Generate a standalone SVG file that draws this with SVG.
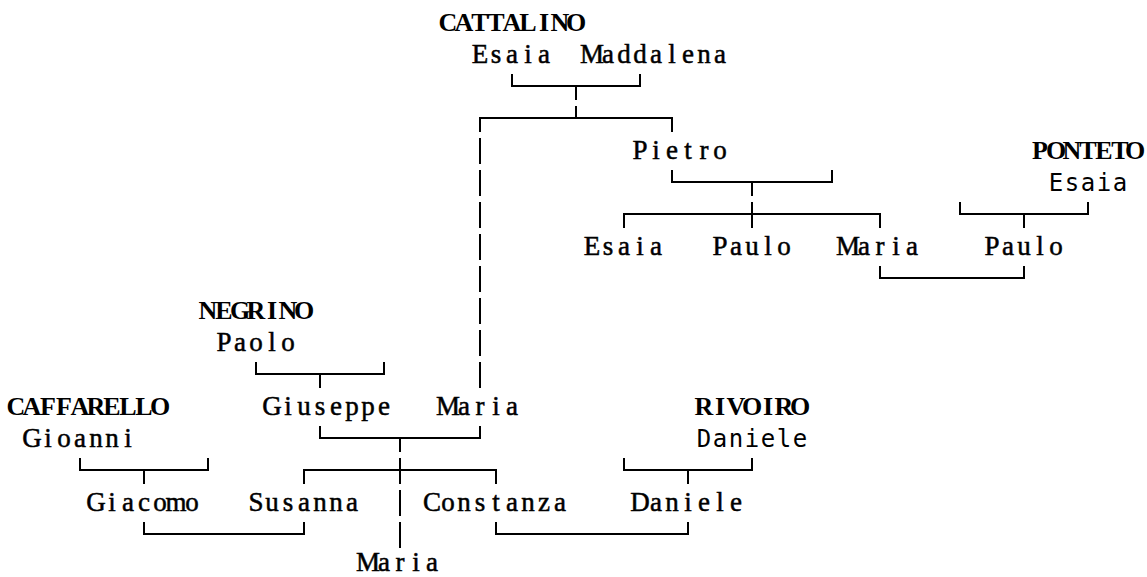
<svg xmlns="http://www.w3.org/2000/svg" width="1147" height="577" viewBox="0 0 1147 577">
<style>
  .t { font-family: "Liberation Serif", "DejaVu Serif", serif; font-size: 27px; text-anchor: middle; fill: #000; stroke: #000; stroke-width: 0.5px; }
  .b { font-weight: bold; font-size: 26px; stroke-width: 0; }
  .m { font-family: "DejaVu Sans Mono", "Liberation Mono", monospace; font-size: 24px; text-anchor: middle; fill: #000; }
  .c { fill: none; stroke: #000; stroke-width: 2; }
</style>
<rect width="1147" height="577" fill="#fff"/>

<g id="connectors">
  <path class="c" d="M512,74 V86 H640 V74 M576,86 V100"/>
  <path class="c" d="M576,106 V118 M480,132 V118 H672 V132"/>
  <path class="c" d="M480,138 V164 M480,170 V196 M480,202 V228 M480,234 V260 M480,266 V292 M480,298 V324 M480,330 V356 M480,362 V388"/>
  <path class="c" d="M672,170 V182 H832 V170 M752,182 V196"/>
  <path class="c" d="M752,202 V228 M624,228 V214 H880 V228"/>
  <path class="c" d="M880,266 V278 H1024 V266"/>
  <path class="c" d="M960,202 V214 H1088 V202 M1024,214 V228"/>
  <path class="c" d="M256,362 V374 H384 V362 M320,374 V388"/>
  <path class="c" d="M320,426 V438 H480 V426 M400,438 V452"/>
  <path class="c" d="M400,458 V484 M304,484 V470 H496 V484"/>
  <path class="c" d="M400,490 V516 M400,522 V548"/>
  <path class="c" d="M144,522 V534 H304 V522 M496,522 V534 H688 V522"/>
  <path class="c" d="M80,458 V470 H208 V458 M144,470 V484"/>
  <path class="c" d="M624,458 V470 H752 V458 M688,470 V484"/>
</g>

<g id="cattalino"><text class="t b" x="448 464 480 496 512 528 544 560 576" y="31">CATTALINO</text></g>
<g id="esaia-cattalino"><text class="t" x="480 496 512 528 544" y="63">Esaia</text></g>
<g id="maddalena"><text class="t" x="592 608 624 640 656 672 688 704 720" y="63">Maddalena</text></g>
<g id="pietro"><text class="t" x="640 656 672 688 704 720" y="159">Pietro</text></g>
<g id="ponteto"><text class="t b" x="1040 1056 1072 1088 1104 1120 1135" y="159">PONTETO</text></g>
<g id="esaia-ponteto"><text class="m" x="1056 1072 1088 1104 1120" y="191">Esaia</text></g>
<g id="esaia-child"><text class="t" x="592 608 624 640 656" y="255">Esaia</text></g>
<g id="paulo-child"><text class="t" x="720 736 752 768 784" y="255">Paulo</text></g>
<g id="maria-pietro"><text class="t" x="848 864 880 896 912" y="255">Maria</text></g>
<g id="paulo-ponteto"><text class="t" x="992 1008 1024 1040 1056" y="255">Paulo</text></g>
<g id="negrino"><text class="t b" x="208 224 240 256 272 288 304" y="319">NEGRINO</text></g>
<g id="paolo"><text class="t" x="224 240 256 272 288" y="351">Paolo</text></g>
<g id="caffarello"><text class="t b" x="16 32 48 64 80 96 112 128 144 160" y="415">CAFFARELLO</text></g>
<g id="giuseppe"><text class="t" x="272 288 304 320 336 352 368 384" y="415">Giuseppe</text></g>
<g id="maria-cattalino"><text class="t" x="448 464 480 496 512" y="415">Maria</text></g>
<g id="rivoiro"><text class="t b" x="704 720 736 752 768 784 800" y="415">RIVOIRO</text></g>
<g id="gioanni"><text class="t" x="32 48 64 80 96 112 128" y="447">Gioanni</text></g>
<g id="daniele-rivoiro"><text class="m" x="704 720 736 752 768 784 800" y="447">Daniele</text></g>
<g id="giacomo"><text class="t" x="96 112 128 144 160 176 192" y="511">Giacomo</text></g>
<g id="susanna"><text class="t" x="256 272 288 304 320 336 352" y="511">Susanna</text></g>
<g id="constanza"><text class="t" x="432 448 464 480 496 512 528 544 560" y="511">Constanza</text></g>
<g id="daniele-child"><text class="t" x="640 656 672 688 704 720 736" y="511">Daniele</text></g>
<g id="maria-negrino"><text class="t" x="368 384 400 416 432" y="571">Maria</text></g>
</svg>
